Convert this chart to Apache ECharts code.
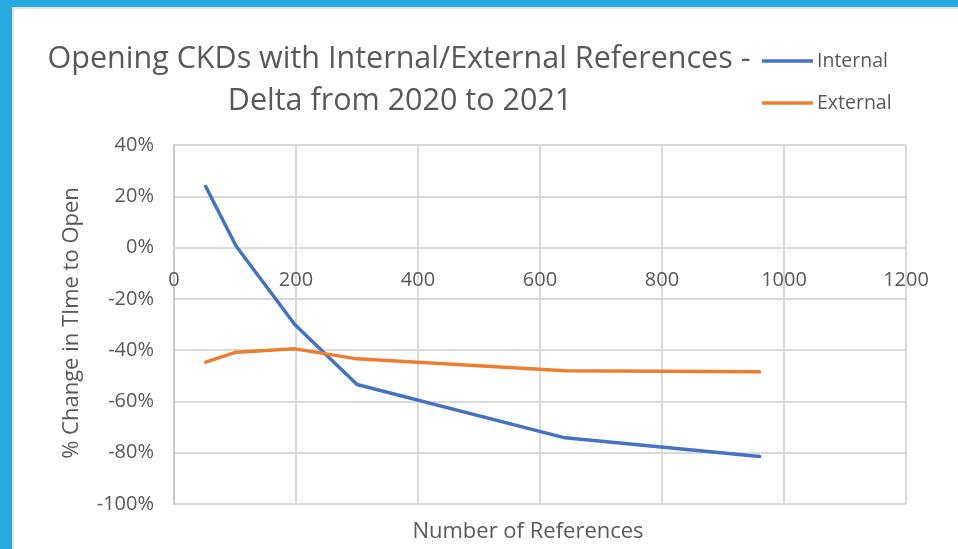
<!DOCTYPE html>
<html>
<head>
<meta charset="utf-8">
<style>
  html, body { margin: 0; padding: 0; background: #ffffff; }
  #chart { position: absolute; left: 0; top: 0; width: 958px; height: 549px; }
</style>
<script src="https://cdn.jsdelivr.net/npm/echarts@6/dist/echarts.min.js"></script>
</head>
<body>
<div id="chart"></div>
<script>
// Number of references in the CKD (x) and % change in time to open, 2020 -> 2021
const refCounts   = [52, 102, 198, 300, 641, 960];
const internalPct = [23.8, 0.5, -30.0, -53.4, -74.2, -81.5];
const externalPct = [-44.7, -40.8, -39.5, -43.4, -48.0, -48.4];

const xTicks = { min: 0, max: 1200, interval: 200 };
const yTicks = { min: -100, max: 40, interval: 20 };

const titleLines = ['Opening CKDs with Internal/External References -', 'Delta from 2020 to 2021'];
const seriesNames = ['Internal', 'External'];
const xTitle = 'Number of References';
const yTitle = '% Change in TIme to Open';

const FONT = '"Open Sans", "Noto Sans", sans-serif';
const TEXT = '#595959';
const GRID = '#d9d9d9';

// plot box
const G = { left: 174, right: 52, top: 145, bottom: 45 };
const plotH = 549 - G.top - G.bottom;

const chart = echarts.init(document.getElementById('chart'), null, { renderer: 'canvas' });

const pairs = (ys) => refCounts.map((x, i) => [x, ys[i]]);

// the horizontal axis crosses the vertical one at 0%
const zeroOffset = -plotH * (0 - yTicks.min) / (yTicks.max - yTicks.min);

chart.setOption({
  animation: false,
  backgroundColor: '#ffffff',
  grid: { left: G.left, right: G.right, top: G.top, bottom: G.bottom, containLabel: false },
  legend: {
    orient: 'vertical',
    left: 762,
    top: 50,
    padding: 0,
    icon: 'rect',
    itemWidth: 51,
    itemHeight: 3.5,
    itemGap: 20,
    textStyle: { color: TEXT, fontFamily: FONT, fontSize: 19.5, lineHeight: 22, padding: [0, 0, 0, -1] },
    data: seriesNames
  },
  xAxis: {
    type: 'value',
    min: xTicks.min, max: xTicks.max, interval: xTicks.interval,
    offset: zeroOffset,
    axisLine: { show: true, onZero: false, lineStyle: { color: GRID, width: 2 } },
    axisTick: { show: false },
    axisLabel: { color: TEXT, fontFamily: FONT, fontSize: 20, margin: 23, formatter: (v) => String(v) },
    splitLine: { show: true, lineStyle: { color: GRID, width: 2 } }
  },
  yAxis: {
    type: 'value',
    min: yTicks.min, max: yTicks.max, interval: yTicks.interval,
    axisLine: { show: true, lineStyle: { color: '#c9c9c9', width: 2 } },
    axisTick: { show: false },
    axisLabel: { color: TEXT, fontFamily: FONT, fontSize: 20, margin: 20, formatter: '{value}%' },
    splitLine: { show: true, lineStyle: { color: GRID, width: 2 } }
  },
  series: [
    {
      name: seriesNames[0], type: 'line', data: pairs(internalPct),
      showSymbol: false, symbol: 'none',
      lineStyle: { color: '#4472C4', width: 3.5, cap: 'round', join: 'round' },
      itemStyle: { color: '#4472C4' }
    },
    {
      name: seriesNames[1], type: 'line', data: pairs(externalPct),
      showSymbol: false, symbol: 'none',
      lineStyle: { color: '#ED7D31', width: 3.5, cap: 'round', join: 'round' },
      itemStyle: { color: '#ED7D31' }
    }
  ],
  graphic: [
    // frame: blue band on top and left, thin grey inner edge
    { type: 'rect', shape: { x: 0, y: 0, width: 958, height: 7 }, style: { fill: '#27a9e1' }, silent: true },
    { type: 'rect', shape: { x: 0, y: 0, width: 12, height: 549 }, style: { fill: '#27a9e1' }, silent: true },
    { type: 'rect', shape: { x: 12, y: 7, width: 946, height: 2 }, style: { fill: '#e4e4e4' }, silent: true },
    { type: 'rect', shape: { x: 12, y: 7, width: 2, height: 542 }, style: { fill: '#e4e4e4' }, silent: true },
    // chart title (two lines)
    { type: 'text', x: 399, y: 59, style: { text: titleLines[0], fill: TEXT, fontFamily: FONT, fontSize: 30.5, align: 'center', verticalAlign: 'middle' }, silent: true },
    { type: 'text', x: 400, y: 101, style: { text: titleLines[1], fill: TEXT, fontFamily: FONT, fontSize: 30.5, align: 'center', verticalAlign: 'middle' }, silent: true },
    // axis titles
    { type: 'text', x: 528, y: 532, style: { text: xTitle, fill: TEXT, fontFamily: FONT, fontSize: 22, align: 'center', verticalAlign: 'middle' }, silent: true },
    { type: 'text', x: 72, y: 323, rotation: Math.PI / 2, style: { text: yTitle, fill: TEXT, fontFamily: FONT, fontSize: 22, align: 'center', verticalAlign: 'middle' }, silent: true }
  ]
});
</script>
</body>
</html>
